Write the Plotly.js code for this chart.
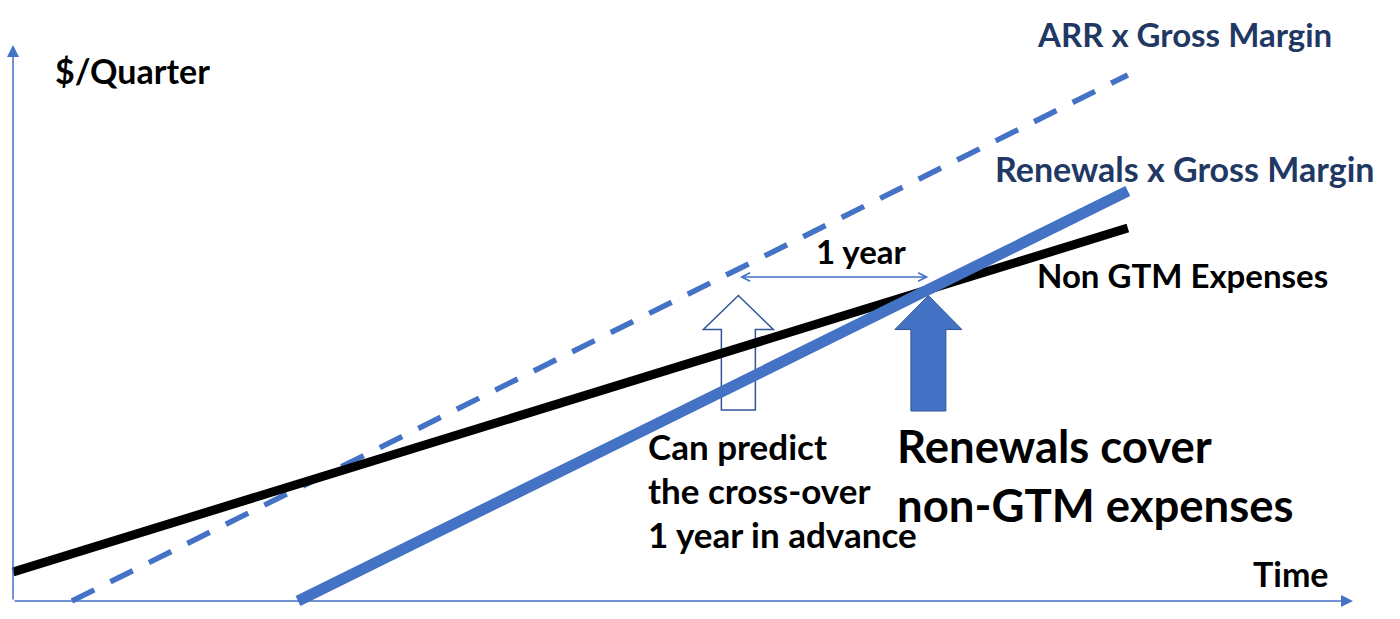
<!DOCTYPE html>
<html>
<head>
<meta charset="utf-8">
<script src="https://cdn.plot.ly/plotly-3.0.1.min.js"></script>
<style>html,body{margin:0;padding:0;background:#fff;}#chart{width:1400px;height:619px;}</style>
</head>
<body>
<div id="chart"></div>
<script>
// ---- data (time in quarters, value in $/quarter, arbitrary units) ----
const expensesTime   = [0, 23.47];
const expensesValue  = [2.9, 37.3];
const arrTime        = [1.24, 23.47];
const arrValue       = [0, 52.6];
const renewalsTime   = [6.0, 23.47];
const renewalsValue  = [0, 41.0];
const leadQuarters   = 4; // 1 year

const seriesNames = ['Non GTM Expenses', 'ARR x Gross Margin', 'Renewals x Gross Margin'];

// ---- layout geometry ----
const W = 1400, H = 619;
const X0PX = 13, PXPERX = 47.5;   // x pixel of t=0, px per quarter
const Y0PX = 601, PXPERY = 10;    // y pixel of value 0, px per unit
const xRange = [-X0PX / PXPERX, (W - X0PX) / PXPERX];
const yRange = [-(H - Y0PX) / PXPERY, Y0PX / PXPERY];
const tx = px => (px - X0PX) / PXPERX;
const ty = py => (Y0PX - py) / PXPERY;
const xp = t => X0PX + t * PXPERX;
const yp = v => Y0PX - v * PXPERY;
const px = p => p / W, py = p => 1 - p / H;

// crossover of renewals and expenses lines
function lineAt(ts, vs, t) { return vs[0] + (vs[1] - vs[0]) * (t - ts[0]) / (ts[1] - ts[0]); }
const mE = (expensesValue[1] - expensesValue[0]) / (expensesTime[1] - expensesTime[0]);
const mR = (renewalsValue[1] - renewalsValue[0]) / (renewalsTime[1] - renewalsTime[0]);
const crossT = ((renewalsValue[0] - mR * renewalsTime[0]) - (expensesValue[0] - mE * expensesTime[0])) / (mE - mR);
const crossV = lineAt(expensesTime, expensesValue, crossT);
const cxp = xp(crossT), cyp = yp(crossV);
const predT = crossT - leadQuarters;
const pxp = xp(predT);

const BLUE = '#4472C4', NAVY = '#1F3864', DARKBLUE = '#2F5597';
const FONT = 'Lato, "Open Sans", sans-serif';

const traces = [
  {x: arrTime, y: arrValue, mode: 'lines', name: seriesNames[1],
   line: {color: BLUE, width: 5.5, dash: '25px,18px'}, hoverinfo: 'skip'},
  {x: expensesTime, y: expensesValue, mode: 'lines', name: seriesNames[0],
   line: {color: '#000000', width: 9}, hoverinfo: 'skip'},
  {x: renewalsTime, y: renewalsValue, mode: 'lines', name: seriesNames[2],
   line: {color: BLUE, width: 11}, hoverinfo: 'skip'}
];

function arrowPath(tipX, tipY, headH, headHalf, bodyHalf, bottom) {
  const pts = [
    [tipX, tipY], [tipX + headHalf, tipY + headH], [tipX + bodyHalf, tipY + headH],
    [tipX + bodyHalf, bottom], [tipX - bodyHalf, bottom], [tipX - bodyHalf, tipY + headH],
    [tipX - headHalf, tipY + headH]
  ];
  return 'M' + pts.map(p => tx(p[0]).toFixed(4) + ',' + ty(p[1]).toFixed(4)).join(' L') + ' Z';
}

const tipY = cyp + 6;
const shapes = [
  {type: 'path', xref: 'x', yref: 'y', layer: 'below',
   path: arrowPath(pxp, tipY, 34, 35, 17, 410),
   line: {color: DARKBLUE, width: 1.5}, fillcolor: 'rgba(0,0,0,0)'},
  {type: 'path', xref: 'x', yref: 'y', layer: 'above',
   path: arrowPath(cxp, tipY, 34, 33.5, 17.5, 411),
   line: {color: DARKBLUE, width: 1}, fillcolor: BLUE}
];

function label(text, left, centerY, size, color, extra) {
  return Object.assign({
    text: text, xref: 'paper', yref: 'paper', x: px(left), y: py(centerY),
    xanchor: 'left', yanchor: 'middle', showarrow: false, align: 'left',
    font: {family: FONT, size: size, color: color, weight: 'bold'}
  }, extra || {});
}

const annotations = [
  // axes with arrows
  {xref: 'paper', yref: 'paper', x: px(X0PX), y: py(45), ax: 0, ay: Y0PX - 45, text: '',
   showarrow: true, arrowhead: 2, arrowsize: 1.6, arrowwidth: 1.5, arrowcolor: BLUE},
  {xref: 'paper', yref: 'paper', x: px(1353), y: py(Y0PX), ax: -(1353 - X0PX), ay: 0, text: '',
   showarrow: true, arrowhead: 2, arrowsize: 1.6, arrowwidth: 1.5, arrowcolor: BLUE},
  // 1 year double arrow
  {xref: 'x', yref: 'y', x: crossT, y: ty(277), axref: 'x', ayref: 'y', ax: predT, ay: ty(277), text: '',
   showarrow: true, arrowhead: 5, arrowside: 'end+start', arrowsize: 1.1, arrowwidth: 1.5, arrowcolor: BLUE},
  label('$/Quarter', 53, 71, 34, '#000'),
  label('ARR x Gross Margin', 1035, 34, 33, NAVY),
  label('Renewals x Gross Margin', 993, 168, 34, NAVY),
  label('Non GTM Expenses', 1035, 275, 33, '#000'),
  label('1 year', 814, 251, 33, '#000'),
  label('Can predict', 646, 446, 35, '#000'),
  label('the cross-over', 646, 490, 35, '#000'),
  label('1 year in advance', 646, 534, 35, '#000'),
  label('Renewals cover', 895, 446, 45.5, '#000'),
  label('non-GTM expenses', 895, 504, 45.5, '#000'),
  label('Time', 1251, 573, 34, '#000')
];

const layout = {
  width: W, height: H,
  margin: {l: 0, r: 0, t: 0, b: 0, pad: 0},
  paper_bgcolor: '#ffffff', plot_bgcolor: '#ffffff',
  showlegend: false,
  xaxis: {range: xRange, visible: false, fixedrange: true},
  yaxis: {range: yRange, visible: false, fixedrange: true},
  shapes: shapes,
  annotations: annotations
};

Plotly.newPlot('chart', traces, layout, {displayModeBar: false, staticPlot: true});
</script>
</body>
</html>
